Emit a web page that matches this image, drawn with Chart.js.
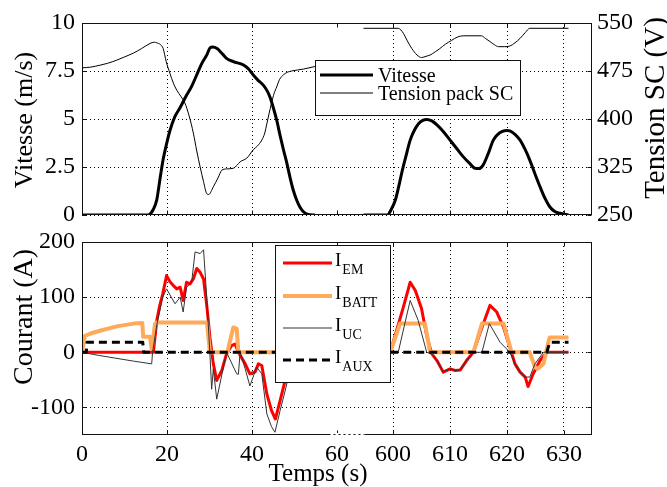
<!DOCTYPE html>
<html lang="fr">
<head>
<meta charset="utf-8">
<title>Vitesse, tension et courants</title>
<script src="https://cdn.jsdelivr.net/npm/chart.js@4/dist/chart.umd.min.js"></script>
<style>
html, body { margin: 0; padding: 0; overflow: hidden; background: #fff; }
#page { position: relative; width: 667px; height: 487px; overflow: hidden; }
canvas { position: absolute; left: 0; top: 0; }
</style>
</head>
<body>
<div id="page">
    <canvas id="graphe-bas" width="667" height="500"></canvas>
    <canvas id="graphe-haut" width="667" height="487"></canvas>
</div>
<script>
"use strict";

const POLICE = '"Liberation Serif", "DejaVu Serif", serif';

// graduations
const ticks_temps = [0, 20, 40, 60, 600, 610, 620, 630];
const ticks_vitesse = [0, 2.5, 5, 7.5, 10];
const ticks_tension = [250, 325, 400, 475, 550];
const ticks_courant = [-100, 0, 100, 200];

// null = coupure de l'axe des temps entre 60 s et 600 s
const t_vitesse = [0, 15.3, 16.0, 16.8, 17.6, 18.3, 19.1, 20.0, 20.7, 21.8,
    23.1, 24.5, 25.8, 27.0, 28.2, 29.4, 30.1, 30.8, 31.7, 32.8,
    34.0, 35.6, 38.0, 39.2, 40.3, 41.5, 42.7, 43.6, 44.2, 45.0,
    45.8, 46.6, 47.4, 48.2, 48.9, 49.7, 50.5, 51.3, 52.1, 53.2, 54.8, 300,
    594.8, 599.0, 599.6, 600.4, 601.0, 601.5, 602.2, 603.0,
    603.8, 604.5, 605.2, 605.9, 606.8, 607.7, 608.8, 610.0,
    611.2, 612.3, 613.4, 614.4, 615.1, 615.8, 616.7, 617.6,
    618.4, 619.1, 620.0, 620.5, 621.4, 622.3, 623.2, 624.0,
    624.9, 625.8, 626.7, 627.5, 628.4, 629.3, 630.8];
const vitesse = [0, 0, 0.05, 0.3, 0.8, 1.8, 2.9, 3.8, 4.4, 5.1,
    5.6, 6.2, 6.7, 7.3, 7.9, 8.35, 8.7, 8.75, 8.68, 8.45,
    8.16, 7.99, 7.81, 7.6, 7.29, 7.0, 6.75, 6.45, 6.16, 5.6,
    4.95, 4.15, 3.4, 2.7, 2.0, 1.3, 0.78, 0.4, 0.17, 0.03, 0, null,
    0, 0, 0.25, 0.78, 1.5, 2.17, 3.0, 3.9,
    4.45, 4.77, 4.93, 4.98, 4.9, 4.69, 4.35, 3.9,
    3.45, 3.04, 2.7, 2.43, 2.42, 2.6, 3.2, 3.9,
    4.2, 4.34, 4.4, 4.38, 4.2, 3.9, 3.4, 2.86,
    2.15, 1.47, 0.85, 0.43, 0.18, 0.09, 0];

const t_tension = [0, 2, 4.2, 6, 8.2, 10, 12.1, 14, 16.0, 17.0,
    17.6, 18.5, 19.1, 19.8, 20.7, 21.5, 22.3, 23.3, 24.2, 25.2,
    26.2, 27.0, 27.8, 28.6, 29.3, 29.8, 30.9, 32.0, 32.9, 34.0,
    35.6, 36.5, 37.2, 38.8, 40.3, 41.3, 42.3, 43.0, 43.5, 44.0,
    44.6, 45.2, 45.8, 46.5, 47.4, 48.3, 49.3, 52.1, 54.8, 300,
    594.8, 600.9, 601.8, 602.5, 603.3, 604.2, 605.0, 605.8, 606.5, 607.4,
    608.2, 609.2, 610.3, 611.3, 612.3, 615.5, 616.2, 617.0, 617.8, 618.5,
    619.5, 620.5, 621.4, 622.3, 623.2, 624.0, 630.8];
const tension = [480, 481, 484, 487, 492, 497, 503, 510, 518, 520,
    519, 516, 510, 490, 471, 456, 445, 435, 425, 405,
    378, 350, 325, 302, 284, 282, 294, 308, 320, 322,
    323, 328, 333, 339, 352, 358, 367, 378, 393, 408,
    425, 440, 450, 462, 469, 473, 475, 478, 482, null,
    541.7, 541.7, 534, 522, 510, 500, 496, 498, 500, 505,
    510, 517, 523, 528, 530, 530, 526, 521, 516, 513,
    513, 514, 519, 526, 535, 541.7, 541.7];

// pointillés sur l'axe à la coupure
const t_coupure = [54.8, 594.8];
const coupure = [0, 0];

const t_em = [0, 16.8, 17.6, 18.3, 19.0, 19.9, 20.7, 21.5, 22.3, 23.1,
    23.8, 24.6, 25.4, 26.2, 27.0, 27.8, 28.6, 29.4, 30.1, 30.9,
    31.7, 32.9, 34.0, 35.2, 36.0, 36.8, 38.4, 39.5, 40.7, 41.5,
    42.3, 43.5, 44.6, 45.5, 46.6, 47.8, 49.0, 50.2, 55, 300,
    599.5, 600.6, 601.8, 603.0, 603.9, 605.0, 605.9, 606.8, 607.7, 608.8,
    610.0, 610.9, 611.8, 612.9, 614.1, 615.6, 617.0, 618.2, 619.4, 620.5,
    621.4, 622.3, 623.2, 623.7, 624.6, 625.8, 627.0, 630.8];
const i_em = [0, 0, 58, 85, 106, 139, 128, 121, 115, 118,
    94, 127, 124, 133, 152, 145, 133, 82, 27, -21,
    -51, -33, -3, 12, 15, 0, -21, -39, -36, -21,
    -24, -76, -106, -121, -88, -51, -22, 0, 0, null,
    0, 39, 82, 127, 112, 79, 30, -3, -15, -36,
    -30, -33, -32, -15, 0, 45, 85, 73, 45, 9,
    -21, -36, -45, -62, -39, -15, 0, 0];

const t_batt = [0, 0.7, 2, 4.2, 8.2, 12.1, 14.2, 14.4, 16.0, 16.4,
    17.2, 17.6, 29.4, 30.1, 34.2, 35.6, 36.4, 36.8, 55, 300,
    599.5, 600.6, 601.2, 605.6, 606.5, 614.1, 615.6, 619.4, 620.8, 624.0,
    624.9, 625.4, 626.4, 627.3, 627.5, 630.8];
const i_batt = [0, 30, 34, 39, 47, 52, 53, 28, 28, 6,
    52, 54, 54, 0, 0, 45, 43, 0, 0, null,
    0, 33, 52, 52, 0, 0, 52, 52, 0, 0,
    -27, -30, -21, 20, 27, 27];

const t_uc = [0, 4.2, 12.1, 16.4, 16.6, 17.6, 19.0, 19.9, 21.0, 21.9,
    23.1, 23.8, 24.6, 25.8, 26.6, 27.8, 28.6, 29.4, 30.1, 30.5,
    30.9, 31.7, 34.0, 36.4, 36.8, 37.2, 38.4, 39.5, 41.1, 42.3,
    43.5, 44.6, 45.4, 46.6, 47.8, 49.0, 50.2, 55, 300,
    599.5, 600.9, 603.0, 604.4, 605.9, 606.8, 607.7, 608.8, 610.0, 610.9,
    611.8, 612.9, 614.1, 615.6, 616.9, 618.8, 620.5, 621.4, 622.3, 623.2,
    624.0, 624.9, 626.4, 630.8];
const i_uc = [0, -6, -16, -21, 0, 50, 100, 115, 100, 88,
    100, 73, 118, 127, 182, 179, 186, 94, -3, -67,
    -30, -85, 0, -39, -40, 0, -30, -61, -27, -39,
    -112, -135, -145, -106, -70, -30, 0, 0, null,
    0, 0, 94, 58, 0, -3, -15, -36, -30, -33,
    -32, -15, 0, 0, 52, 18, 0, -21, -36, -45,
    -45, -21, 0, 0];

const t_aux = [0, 1.0, 1.2, 14.3, 14.5, 55, 300, 599.5, 627.0, 627.5, 630.8];
const i_aux = [0, 0, 18, 18, 0, 0, null, 0, 0, 18, 18];

function points(ts, ys) {
    return ts.map((t, i) => ({x: t, y: ys[i]}));
}

// axe des temps coupé : 0-60 s à 4.25 px/s, 600-635 s à 5.7 px/s
class EchelleCoupee extends Chart.LinearScale {
    plier(v) {
        return v < 300 ? v : 73.2 + (v - 600) * 1.34;
    }
    getPixelForValue(v) {
        return this.left + this.plier(v) / 120 * this.width;
    }
    getValueForPixel(p) {
        const u = (p - this.left) / this.width * 120;
        return u < 66 ? u : 600 + (u - 73.2) / 1.34;
    }
}
EchelleCoupee.id = 'coupee';
EchelleCoupee.defaults = Chart.LinearScale.defaults;
Chart.register(EchelleCoupee);

function fixer_ticks(valeurs) {
    return scale => { scale.ticks = valeurs.map(v => ({value: v})); };
}

function couleur_grille(ctx) {
    // pas de ligne de grille sur la coupure
    return ctx.tick && ctx.tick.value === 60 ? 'rgba(0,0,0,0)' : '#000';
}

function creer_cadre(opts) {
    return {
        id: 'cadre',
        afterDatasetsDraw(chart) {
            const {ctx, chartArea: a, scales} = chart;
            const g = Math.round(a.left) + 0.5;
            const d = Math.round(a.right) - 0.5;
            const h = Math.round(a.top) + 0.5;
            const b = Math.round(a.bottom) - 0.5;
            ctx.save();
            ctx.strokeStyle = '#111';
            ctx.lineWidth = 1;
            ctx.strokeRect(g, h, d - g, b - h);
            ctx.beginPath();
            ticks_temps.forEach(v => {
                const x = Math.round(scales.x.getPixelForValue(v)) + 0.5;
                ctx.moveTo(x, b); ctx.lineTo(x, b - 4);
                ctx.moveTo(x, h); ctx.lineTo(x, h + 4);
            });
            const droite = scales.y2 || scales.y;
            scales.y.ticks.forEach(t => {
                const y = Math.round(scales.y.getPixelForValue(t.value)) + 0.5;
                ctx.moveTo(g, y); ctx.lineTo(g + 4, y);
            });
            droite.ticks.forEach(t => {
                const y = Math.round(droite.getPixelForValue(t.value)) + 0.5;
                ctx.moveTo(d, y); ctx.lineTo(d - 4, y);
            });
            ctx.stroke();
            if (opts.coupure) {
                const x0 = scales.x.getPixelForValue(opts.coupure[0]);
                const x1 = scales.x.getPixelForValue(opts.coupure[1]);
                ctx.clearRect(x0, b - 1.5, x1 - x0, 3);
                ctx.setLineDash([2, 3]);
                ctx.beginPath();
                ctx.moveTo(x0, b); ctx.lineTo(x1, b);
                ctx.stroke();
            }
            ctx.restore();
        }
    };
}

function creer_legende(o) {
    return {
        id: 'legende',
        afterDraw(chart) {
            const ctx = chart.ctx;
            ctx.save();
            ctx.fillStyle = '#fff';
            ctx.fillRect(o.x, o.y, o.w, o.h);
            ctx.strokeStyle = '#111';
            ctx.lineWidth = 1;
            ctx.strokeRect(o.x + 0.5, o.y + 0.5, o.w, o.h);
            const entrees = chart.data.datasets.filter(ds => ds.label);
            entrees.forEach((ds, i) => {
                const y = o.lignes[i];
                ctx.strokeStyle = ds.borderColor;
                ctx.lineWidth = ds.borderWidth;
                ctx.setLineDash(ds.borderDash || []);
                ctx.beginPath();
                ctx.moveTo(o.x0, y); ctx.lineTo(o.x1, y);
                ctx.stroke();
                ctx.setLineDash([]);
                const [nom, indice] = ds.label.split('_');
                ctx.fillStyle = '#000';
                ctx.textBaseline = 'alphabetic';
                ctx.font = o.taille + 'px ' + POLICE;
                ctx.fillText(nom, o.xTexte, y + o.baseline);
                if (indice) {
                    const w = ctx.measureText(nom).width;
                    ctx.font = o.tailleIndice + 'px ' + POLICE;
                    ctx.fillText(indice, o.xTexte + w + 1, y + o.baseline + o.decalageIndice);
                }
            });
            ctx.restore();
        }
    };
}

function creer_titres(liste) {
    return {
        id: 'titres',
        afterDraw(chart) {
            const ctx = chart.ctx;
            liste.forEach(t => {
                ctx.save();
                ctx.translate(t.x, t.y);
                ctx.rotate(t.angle);
                ctx.font = t.taille + 'px ' + POLICE;
                ctx.fillStyle = '#000';
                ctx.textAlign = 'center';
                ctx.textBaseline = 'middle';
                ctx.fillText(t.texte, 0, 0);
                ctx.restore();
            });
        }
    };
}

const police_ticks = {family: POLICE, size: 24};

function axe_temps(afficher) {
    return {
        type: 'coupee', min: 0, max: 635,
        afterBuildTicks: fixer_ticks(ticks_temps),
        ticks: {display: afficher, font: police_ticks, color: '#000', padding: 5,
                autoSkip: false, maxRotation: 0},
        grid: {color: couleur_grille, drawTicks: false},
        border: {display: false, dash: [1, 3]}
    };
}

function graphe_haut() {
    const x = axe_temps(false);
    x.afterFit = s => { s.height = 0; };
    new Chart(document.getElementById('graphe-haut'), {
        type: 'line',
        data: {
            datasets: [
                {label: 'Vitesse', data: points(t_vitesse, vitesse), yAxisID: 'y',
                 borderColor: '#000', borderWidth: 3, cubicInterpolationMode: 'monotone', order: 2},
                {label: 'Tension pack SC', data: points(t_tension, tension), yAxisID: 'y2',
                 borderColor: '#000', borderWidth: 1, cubicInterpolationMode: 'monotone', order: 1},
                {data: points(t_coupure, coupure), yAxisID: 'y',
                 borderColor: '#000', borderWidth: 2, borderDash: [6, 6], order: 0}
            ]
        },
        options: {
            responsive: false, animation: false, events: [],
            layout: {padding: {top: 23, bottom: 272, left: 0, right: 0}},
            elements: {point: {radius: 0}, line: {tension: 0, borderJoinStyle: 'round'}},
            plugins: {legend: {display: false}, tooltip: {enabled: false}},
            scales: {
                x: x,
                y: {
                    position: 'left', min: 0, max: 10,
                    afterBuildTicks: fixer_ticks(ticks_vitesse),
                    afterFit: s => { s.width = 82; },
                    ticks: {font: police_ticks, color: '#000', padding: 7},
                    grid: {color: '#000', drawTicks: false},
                    border: {display: false, dash: [1, 3]}
                },
                y2: {
                    position: 'right', min: 250, max: 550,
                    afterBuildTicks: fixer_ticks(ticks_tension),
                    afterFit: s => { s.width = 75; },
                    ticks: {font: police_ticks, color: '#000', padding: 5},
                    grid: {drawOnChartArea: false, drawTicks: false},
                    border: {display: false}
                }
            }
        },
        plugins: [
            creer_cadre({}),
            creer_legende({x: 315, y: 60, w: 205, h: 55, x0: 320, x1: 373, xTexte: 378,
                           lignes: [75, 93], taille: 20, baseline: 7}),
            creer_titres([
                {texte: 'Vitesse (m/s)', x: 25, y: 120, angle: -Math.PI / 2, taille: 26},
                {texte: 'Tension SC (V)', x: 656, y: 108, angle: -Math.PI / 2, taille: 29}
            ])
        ]
    });
}

function graphe_bas() {
    const x = axe_temps(true);
    x.afterFit = s => { s.height = 65; };
    new Chart(document.getElementById('graphe-bas'), {
        type: 'line',
        data: {
            datasets: [
                {label: 'I_EM', data: points(t_em, i_em),
                 borderColor: 'rgb(255,0,0)', borderWidth: 3, order: 4},
                {label: 'I_BATT', data: points(t_batt, i_batt),
                 borderColor: 'rgb(255,170,90)', borderWidth: 4, order: 3},
                {label: 'I_UC', data: points(t_uc, i_uc),
                 borderColor: '#333', borderWidth: 1, order: 2},
                {label: 'I_AUX', data: points(t_aux, i_aux),
                 borderColor: '#000', borderWidth: 3, borderDash: [8, 5], order: 1}
            ]
        },
        options: {
            responsive: false, animation: false, events: [],
            layout: {padding: {top: 242, bottom: 0, left: 0, right: 75}},
            elements: {point: {radius: 0}, line: {tension: 0, borderJoinStyle: 'round'}},
            plugins: {legend: {display: false}, tooltip: {enabled: false}},
            scales: {
                x: x,
                y: {
                    position: 'left', min: -150, max: 200,
                    afterBuildTicks: fixer_ticks(ticks_courant),
                    afterFit: s => { s.width = 82; },
                    ticks: {font: police_ticks, color: '#000', padding: 7},
                    grid: {color: '#000', drawTicks: false},
                    border: {display: false, dash: [1, 3]}
                }
            }
        },
        plugins: [
            creer_cadre({coupure: [58, 595]}),
            creer_legende({x: 275, y: 245, w: 115, h: 137, x0: 283, x1: 332, xTexte: 335,
                           lignes: [263, 296, 328, 360], taille: 19, tailleIndice: 14,
                           baseline: 3, decalageIndice: 8}),
            creer_titres([
                {texte: 'Courant (A)', x: 25, y: 317, angle: -Math.PI / 2, taille: 28},
                {texte: 'Temps (s)', x: 318, y: 474, angle: 0, taille: 25}
            ])
        ]
    });
}

// attendre la police avant de dessiner sur les canvas
document.fonts.load('24px "Liberation Serif"').then(() => {
    graphe_bas();
    graphe_haut();
});
</script>
</body>
</html>
